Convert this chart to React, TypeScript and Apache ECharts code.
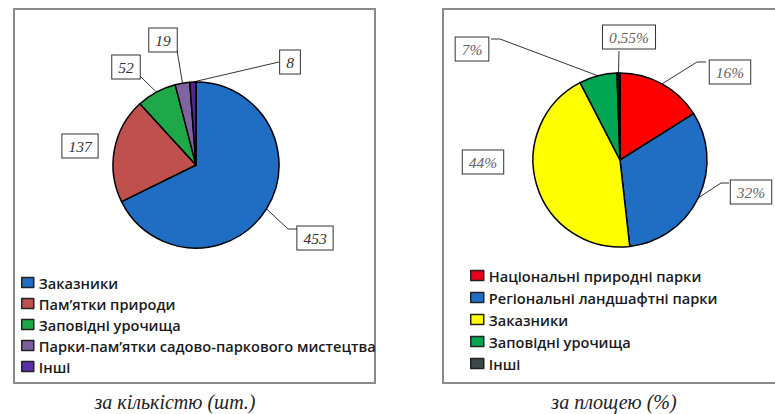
import React, { useEffect, useRef } from "react";
import * as echarts from "echarts";

// ---- data ----
const countNames = [
  "Заказники",
  "Пам’ятки природи",
  "Заповідні урочища",
  "Парки-пам’ятки садово-паркового мистецтва",
  "Інші",
];
const countValues = [453, 137, 52, 19, 8];

const areaNames = [
  "Національні природні парки",
  "Регіональні ландшафтні парки",
  "Заказники",
  "Заповідні урочища",
  "Інші",
];
const areaValues = [16, 32, 44, 7, 0.55];

const captionLeft = "за кількістю (шт.)";
const captionRight = "за площею (%)";

// ---- styles ----
const countColors = ["#1f6ec4", "#c0504d", "#1fa84a", "#8064a2", "#4a2a88"];
const countLegendColors = ["#1f6ec4", "#c0504d", "#1fa84a", "#7a5ea0", "#5a2fa8"];
const areaColors = ["#ff0000", "#1f6ec4", "#ffff00", "#00a651", "#111111"];
const areaLegendColors = ["#e8001c", "#1f6ec4", "#ffff00", "#00a651", "#3c4a4a"];

// label box centres and leader line bends (layout only)
const countLabelPos = [
  [315, 238],
  [80, 146],
  [126, 67],
  [163, 40],
  [290, 62],
];
const countLeader: (number[][] | null)[] = [
  [[288, 229], [298, 229]],
  null,
  [[140, 76]],
  [[177, 50]],
  [[279, 62]],
];
const areaLabelPos = [
  [730, 72],
  [751, 192],
  [483, 162],
  [472, 49],
  [629, 37],
];
const areaLeader: (number[][] | null)[] = [
  [[697, 62], [706, 62]],
  [[721, 183], [729, 183]],
  null,
  [[500, 39], [491, 39]],
  [[619, 51]],
];

const labelBox = {
  fontFamily: "Liberation Serif",
  fontStyle: "italic" as const,
  fontSize: 15.5,
  backgroundColor: "#fff",
  borderColor: "#333",
  borderWidth: 1,
  padding: [4, 6, 3, 6],
};

function makeLayout(pos: number[][], leaders: (number[][] | null)[]) {
  return (params: any) => {
    const i = params.dataIndex;
    const p = pos[i];
    const res: any = { x: p[0], y: p[1], align: "center", verticalAlign: "middle" };
    const l = leaders[i];
    if (l && params.labelLinePoints && params.labelLinePoints[0]) {
      res.labelLinePoints = [params.labelLinePoints[0], ...l];
    }
    return res;
  };
}

export default function App() {
  const ref = useRef<HTMLDivElement>(null);
  useEffect(() => {
    if (!ref.current) return;
    const chart = echarts.init(ref.current, undefined, { renderer: "svg" });
    const legendText = {
      fontFamily: "Open Sans",
      fontSize: 14.6,
      fontWeight: 600,
      color: "#1a1a1a",
      lineHeight: 14,
    };
    const captionStyle = {
      fontFamily: "Liberation Serif",
      fontStyle: "italic",
      fontSize: 20,
      fill: "#222",
      align: "center",
      verticalAlign: "middle",
    };
    chart.setOption({
      animation: false,
      backgroundColor: "#fff",
      graphic: [
        {
          type: "rect",
          shape: { x: 14, y: 9, width: 361, height: 374 },
          style: { fill: "none", stroke: "#8a8a8a", lineWidth: 2 },
          silent: true,
        },
        {
          type: "rect",
          shape: { x: 443, y: 9, width: 340, height: 374 },
          style: { fill: "none", stroke: "#8a8a8a", lineWidth: 2 },
          silent: true,
        },
        {
          type: "text",
          x: 175,
          y: 402,
          style: { text: captionLeft, ...captionStyle },
        },
        {
          type: "text",
          x: 614,
          y: 402,
          style: { text: captionRight, ...captionStyle },
        },
      ],
      legend: [
        {
          orient: "vertical",
          left: 21,
          top: 275,
          padding: 0,
          itemWidth: 12,
          itemHeight: 10,
          itemGap: 6,
          icon: "rect",
          selectedMode: false,
          textStyle: legendText,
          data: countNames.map((n, i) => ({
            name: n,
            itemStyle: { color: countLegendColors[i], borderColor: "#222", borderWidth: 1.5 },
          })),
        },
        {
          orient: "vertical",
          left: 470,
          top: 268,
          padding: 0,
          itemWidth: 13,
          itemHeight: 10,
          itemGap: 7,
          icon: "rect",
          selectedMode: false,
          textStyle: legendText,
          data: areaNames.map((n, i) => ({
            name: n,
            itemStyle: { color: areaLegendColors[i], borderColor: "#222", borderWidth: 1.5 },
          })),
        },
      ],
      series: [
        {
          type: "pie",
          center: [196, 165],
          radius: 83,
          startAngle: 90,
          clockwise: true,
          avoidLabelOverlap: false,
          itemStyle: { borderColor: "#000", borderWidth: 1.5 },
          label: {
            show: true,
            position: "outside",
            formatter: (p: any) => String(p.value),
            color: "#333",
            ...labelBox,
          },
          labelLine: { show: true, length: 10, length2: 10, lineStyle: { color: "#333", width: 1 } },
          labelLayout: makeLayout(countLabelPos, countLeader),
          data: countNames.map((n, i) => ({
            name: n,
            value: countValues[i],
            itemStyle: { color: countColors[i] },
            labelLine: { show: countLeader[i] != null },
          })),
        },
        {
          type: "pie",
          center: [620, 160],
          radius: 87,
          startAngle: 90,
          clockwise: true,
          avoidLabelOverlap: false,
          itemStyle: { borderColor: "#000", borderWidth: 1.5 },
          label: {
            show: true,
            position: "outside",
            formatter: (p: any) => String(p.value).replace(".", ",") + "%",
            color: "#666",
            ...labelBox,
          },
          labelLine: { show: true, length: 10, length2: 10, lineStyle: { color: "#333", width: 1 } },
          labelLayout: makeLayout(areaLabelPos, areaLeader),
          data: areaNames.map((n, i) => ({
            name: n,
            value: areaValues[i],
            itemStyle: { color: areaColors[i] },
            labelLine: { show: areaLeader[i] != null },
          })),
        },
      ],
    });
    return () => chart.dispose();
  }, []);
  return (
    <div
      ref={ref}
      style={{ position: "fixed", left: 0, top: 0, width: 775, height: 414 }}
    />
  );
}
